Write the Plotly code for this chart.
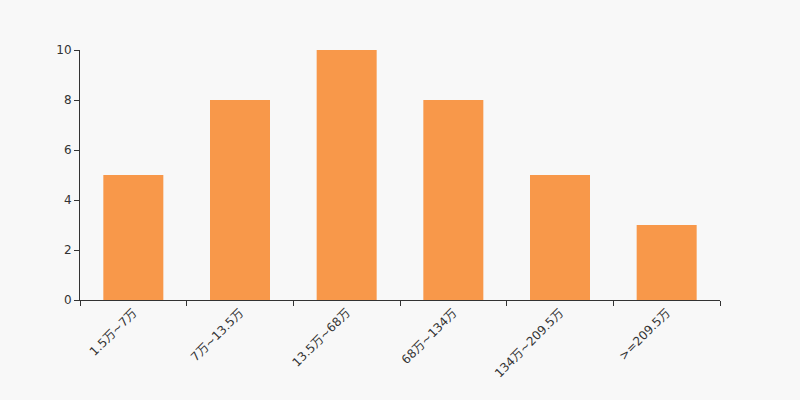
import plotly.graph_objects as go

categories = ["1.5万~7万", "7万~13.5万", "13.5万~68万", "68万~134万", "134万~209.5万", ">=209.5万"]
values = [5, 8, 10, 8, 5, 3]
y_ticks = [0, 2, 4, 6, 8, 10]

fig = go.Figure(go.Bar(x=categories, y=values, marker=dict(color="#f8984a", line=dict(width=0))))

fig.update_layout(
    width=800, height=400,
    margin=dict(l=80, r=80, t=50, b=100),
    paper_bgcolor="#f8f8f8", plot_bgcolor="#f8f8f8",
    font=dict(family="DejaVu Sans, Noto Sans CJK SC", size=12, color="#333333"),
    bargap=0.4375,
    showlegend=False,
)
fig.update_xaxes(
    type="category", showline=True, linecolor="#333333", linewidth=1,
    ticks="outside", ticklen=5, tickcolor="#333333", tickson="boundaries",
    tickangle=-45, showgrid=False, zeroline=False,
)
fig.update_yaxes(
    range=[0, 10], tickvals=y_ticks, showline=True, linecolor="#333333", linewidth=1,
    ticks="outside", ticklen=5, tickcolor="#333333", showgrid=False, zeroline=False,
)

fig.write_html(
    "out.html",
    config={"displayModeBar": False},
    post_script="document.body.style.margin='0';document.body.style.background='#f8f8f8';",
)
